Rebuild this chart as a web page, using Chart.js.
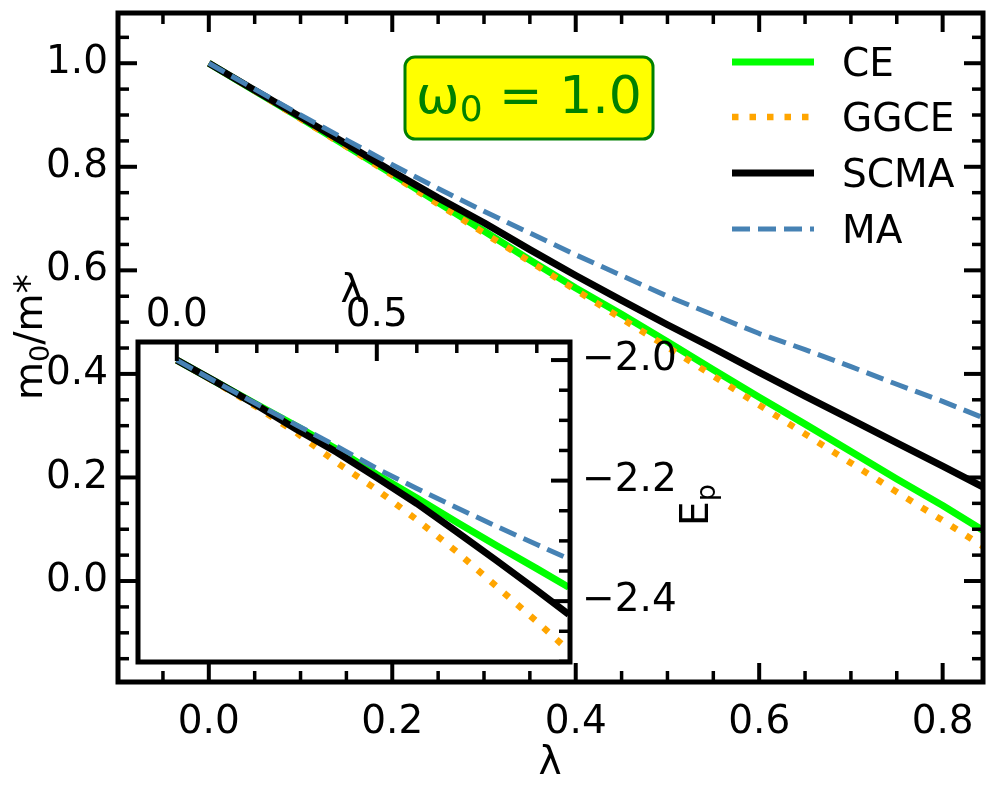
<!DOCTYPE html>
<html><head><meta charset="utf-8">
<script src="https://cdn.jsdelivr.net/npm/chart.js@4.4.0/dist/chart.umd.min.js"></script>
<style>
html,body{margin:0;padding:0;background:#fff;}
#wrap{position:relative;width:997px;height:793px;background:#fff;}
canvas{position:absolute;left:0;top:0;}
</style></head><body>
<div id="wrap"><canvas id="main" width="997" height="793"></canvas><canvas id="inset" width="997" height="793"></canvas></div>
<script>
// ---------------- data (main panel: m0/m* vs lambda) ----------------
const lambdaMain = [0,0.05,0.1,0.15,0.2,0.25,0.3,0.35,0.4,0.45,0.5,0.55,0.6,0.65,0.7,0.75,0.8,0.85];
const ceMain   = [1.0,0.947,0.894,0.840,0.786,0.731,0.676,0.620,0.566,0.515,0.462,0.408,0.355,0.303,0.250,0.197,0.146,0.091];
const ggceMain = [1.0,0.947,0.893,0.839,0.784,0.728,0.672,0.617,0.562,0.507,0.452,0.396,0.340,0.284,0.228,0.172,0.117,0.060];
const scmaMain = [1.0,0.948,0.896,0.844,0.791,0.740,0.692,0.640,0.590,0.542,0.495,0.450,0.403,0.357,0.312,0.267,0.222,0.176];
const maMain   = [1.0,0.950,0.900,0.852,0.804,0.758,0.714,0.672,0.630,0.590,0.550,0.514,0.478,0.447,0.414,0.380,0.347,0.311];

// ---------------- data (inset: E_p vs lambda) ----------------
const lambdaInset = [0,0.1,0.2,0.3,0.4,0.5,0.6,0.7,0.8,0.9,0.98];
const ceInset   = [-2.0,-2.037,-2.074,-2.110,-2.148,-2.190,-2.229,-2.269,-2.308,-2.346,-2.377];
const ggceInset = [-2.0,-2.038,-2.078,-2.121,-2.170,-2.215,-2.265,-2.318,-2.376,-2.434,-2.482];
const scmaInset = [-2.0,-2.037,-2.075,-2.115,-2.153,-2.195,-2.238,-2.285,-2.333,-2.382,-2.422];
const maInset   = [-2.0,-2.037,-2.073,-2.108,-2.143,-2.180,-2.213,-2.245,-2.276,-2.306,-2.330];

// ---------------- ticks ----------------
const mainXMajor = [0.0,0.2,0.4,0.6,0.8];
const mainXMinor = [-0.05,0.05,0.1,0.15,0.25,0.3,0.35,0.45,0.5,0.55,0.65,0.7,0.75];
const mainYMajor = [0.0,0.2,0.4,0.6,0.8,1.0];
const mainYMinor = [-0.15,-0.1,-0.05,0.05,0.1,0.15,0.25,0.3,0.35,0.45,0.5,0.55,0.65,0.7,0.75,0.85,0.9,0.95,1.05];
const insetXMajor = [0.0,0.5];
const insetXMinor = [0.1,0.2,0.3,0.4,0.6,0.7,0.8,0.9];
const insetYMajor = [-2.0,-2.2,-2.4];
const insetYMinor = [-2.05,-2.1,-2.15,-2.25,-2.3,-2.35,-2.45,-2.5];

const seriesNames = ['CE','GGCE','SCMA','MA'];
const FONT = 'DejaVu Sans';
const styles = {
  CE:   {color:'#00ff00', width:7, dash:[]},
  GGCE: {color:'#ffa500', width:6.5, dash:[6.5,11]},
  SCMA: {color:'#000000', width:7, dash:[]},
  MA:   {color:'#4682b4', width:5, dash:[18,8]}
};

function pts(xs, ys){ return xs.map((x,i)=>({x:x, y:ys[i]})); }
function ds(name, data, order){
  const s = styles[name];
  return {label:name, data:data, borderColor:s.color, borderWidth:s.width, borderDash:s.dash,
          pointRadius:0, fill:false, tension:0, order:order, clip:0, borderCapStyle:'butt', borderJoinStyle:'round'};
}
function fmt(v){ return (v<0?'\u2212':'') + Math.abs(v).toFixed(1); }

function tickPlugin(id, cfg){
  return {
    id:id,
    beforeDraw(chart){
      const {ctx, chartArea:a} = chart;
      ctx.save(); ctx.fillStyle='#fff';
      ctx.fillRect(a.left, a.top, a.right-a.left, a.bottom-a.top);
      ctx.restore();
    },
    afterDraw(chart){
      const {ctx, chartArea:a} = chart;
      const xs = chart.scales.x, ys = chart.scales.y;
      ctx.save();
      ctx.strokeStyle='#000'; ctx.lineCap='butt';
      const seg=(x1,y1,x2,y2,w)=>{ctx.lineWidth=w;ctx.beginPath();ctx.moveTo(x1,y1);ctx.lineTo(x2,y2);ctx.stroke();};
      const doX=(vals,len,w)=>{vals.forEach(v=>{const p=xs.getPixelForValue(v);
        if(cfg.bottom) seg(p,a.bottom,p,a.bottom-len,w);
        if(cfg.top) seg(p,a.top,p,a.top+len,w);});};
      const doY=(vals,len,w)=>{vals.forEach(v=>{const p=ys.getPixelForValue(v);
        if(cfg.left) seg(a.left,p,a.left+len,p,w);
        if(cfg.right) seg(a.right,p,a.right-len,p,w);});};
      doX(cfg.xMajor,19,4); doX(cfg.xMinor,11,3.5);
      doY(cfg.yMajor,19,4); doY(cfg.yMinor,11,3.5);
      ctx.lineWidth=5; ctx.lineJoin='miter';
      ctx.strokeRect(a.left,a.top,a.right-a.left,a.bottom-a.top);
      ctx.restore();
      if(cfg.extra) cfg.extra(chart);
    }
  };
}

// draw a sequence of [text, sizePx, dy] pieces, centered at cx along baseline
function drawPieces(ctx, pieces, cx, baseY, color){
  let total=0;
  pieces.forEach(p=>{ctx.font=p[1]+'px "'+FONT+'"'; total+=ctx.measureText(p[0]).width;});
  let x=cx-total/2;
  ctx.fillStyle=color; ctx.textBaseline='alphabetic'; ctx.textAlign='left';
  pieces.forEach(p=>{ctx.font=p[1]+'px "'+FONT+'"'; ctx.fillText(p[0],x,baseY+(p[2]||0)); x+=ctx.measureText(p[0]).width;});
}

function mainExtra(chart){
  const ctx=chart.ctx;
  ctx.save();
  // x title
  drawPieces(ctx,[['\u03bb',39,0]],550,774,'#000');
  // y title rotated
  ctx.translate(42,337); ctx.rotate(-Math.PI/2);
  drawPieces(ctx,[['m',39,0],['0',27,7],['/m*',39,0]],0,0,'#000');
  ctx.restore();
  // legend
  ctx.save();
  const rows=[62,117,173,229];
  seriesNames.forEach((n,i)=>{
    const s=styles[n];
    ctx.strokeStyle=s.color; ctx.lineWidth=s.width; ctx.setLineDash(s.dash); ctx.lineCap='butt';
    ctx.beginPath(); ctx.moveTo(732,rows[i]); ctx.lineTo(814,rows[i]); ctx.stroke();
    ctx.setLineDash([]);
    ctx.fillStyle='#000'; ctx.font='39px "'+FONT+'"'; ctx.textAlign='left'; ctx.textBaseline='alphabetic';
    ctx.fillText(n,842,rows[i]+14);
  });
  ctx.restore();
  // text box
  ctx.save();
  ctx.beginPath(); ctx.roundRect(405,57,248,82,10);
  ctx.fillStyle='#ffff00'; ctx.fill();
  ctx.lineWidth=3; ctx.strokeStyle='#008000'; ctx.stroke();
  drawPieces(ctx,[['\u03c9',52,0],['0',36,8],[' = 1.0',52,0]],529,113,'#008000');
  ctx.restore();
}

function insetExtra(chart){
  const ctx=chart.ctx;
  ctx.save();
  drawPieces(ctx,[['\u03bb',39,0]],352,302,'#000');
  ctx.translate(708,505); ctx.rotate(-Math.PI/2);
  drawPieces(ctx,[['E',39,0],['p',27,7]],0,0,'#000');
  ctx.restore();
}

const tickFont = {family:FONT, size:39};

new Chart(document.getElementById('main'), {
  type:'line',
  data:{datasets:[
    ds('CE', pts(lambdaMain, ceMain), 4),
    ds('GGCE', pts(lambdaMain, ggceMain), 3),
    ds('SCMA', pts(lambdaMain, scmaMain), 2),
    ds('MA', pts(lambdaMain, maMain), 1)
  ]},
  options:{
    responsive:false, animation:false, devicePixelRatio:1, events:[],
    layout:{padding:{left:0,top:13,right:14,bottom:0}},
    plugins:{legend:{display:false}, tooltip:{enabled:false}},
    scales:{
      x:{type:'linear', position:'bottom', min:-0.099, max:0.844,
         grid:{display:false, drawTicks:false}, border:{display:false},
         afterBuildTicks:s=>{s.ticks=mainXMajor.map(v=>({value:v}));},
         afterFit:s=>{s.height=111; s.paddingLeft=0; s.paddingRight=0; s.paddingTop=0; s.paddingBottom=0;},
         ticks:{font:tickFont, color:'#000', padding:17, maxRotation:0, autoSkip:false, callback:v=>fmt(v)}},
      y:{type:'linear', position:'left', min:-0.195, max:1.097,
         grid:{display:false, drawTicks:false}, border:{display:false},
         afterBuildTicks:s=>{s.ticks=mainYMajor.map(v=>({value:v}));},
         afterFit:s=>{s.width=118; s.paddingLeft=0; s.paddingRight=0; s.paddingTop=0; s.paddingBottom=0;},
         ticks:{font:tickFont, color:'#000', padding:10, autoSkip:false, callback:v=>fmt(v)}}
    }
  },
  plugins:[tickPlugin('mainTicks',{xMajor:mainXMajor,xMinor:mainXMinor,yMajor:mainYMajor,yMinor:mainYMinor,
    top:true,bottom:true,left:true,right:true, extra:mainExtra})]
});

new Chart(document.getElementById('inset'), {
  type:'line',
  data:{datasets:[
    ds('CE', pts(lambdaInset, ceInset), 4),
    ds('GGCE', pts(lambdaInset, ggceInset), 3),
    ds('SCMA', pts(lambdaInset, scmaInset), 2),
    ds('MA', pts(lambdaInset, maInset), 1)
  ]},
  options:{
    responsive:false, animation:false, devicePixelRatio:1, events:[],
    layout:{padding:{left:138,top:270,right:257,bottom:131}},
    plugins:{legend:{display:false}, tooltip:{enabled:false}},
    scales:{
      x:{type:'linear', position:'top', min:-0.097, max:0.983,
         grid:{display:false, drawTicks:false}, border:{display:false},
         afterBuildTicks:s=>{s.ticks=insetXMajor.map(v=>({value:v}));},
         afterFit:s=>{s.height=72; s.paddingLeft=0; s.paddingRight=0; s.paddingTop=0; s.paddingBottom=0;},
         ticks:{font:tickFont, color:'#000', padding:3, maxRotation:0, autoSkip:false, callback:v=>fmt(v)}},
      y:{type:'linear', position:'right', min:-2.501, max:-1.970,
         grid:{display:false, drawTicks:false}, border:{display:false},
         afterBuildTicks:s=>{s.ticks=insetYMajor.map(v=>({value:v}));},
         afterFit:s=>{s.width=170; s.paddingLeft=0; s.paddingRight=0; s.paddingTop=0; s.paddingBottom=0;},
         ticks:{font:tickFont, color:'#000', padding:12, autoSkip:false, callback:v=>fmt(v)}}
    }
  },
  plugins:[tickPlugin('insetTicks',{xMajor:insetXMajor,xMinor:insetXMinor,yMajor:insetYMajor,yMinor:insetYMinor,
    top:true,bottom:false,left:false,right:true, extra:insetExtra})]
});
</script>
</body></html>
